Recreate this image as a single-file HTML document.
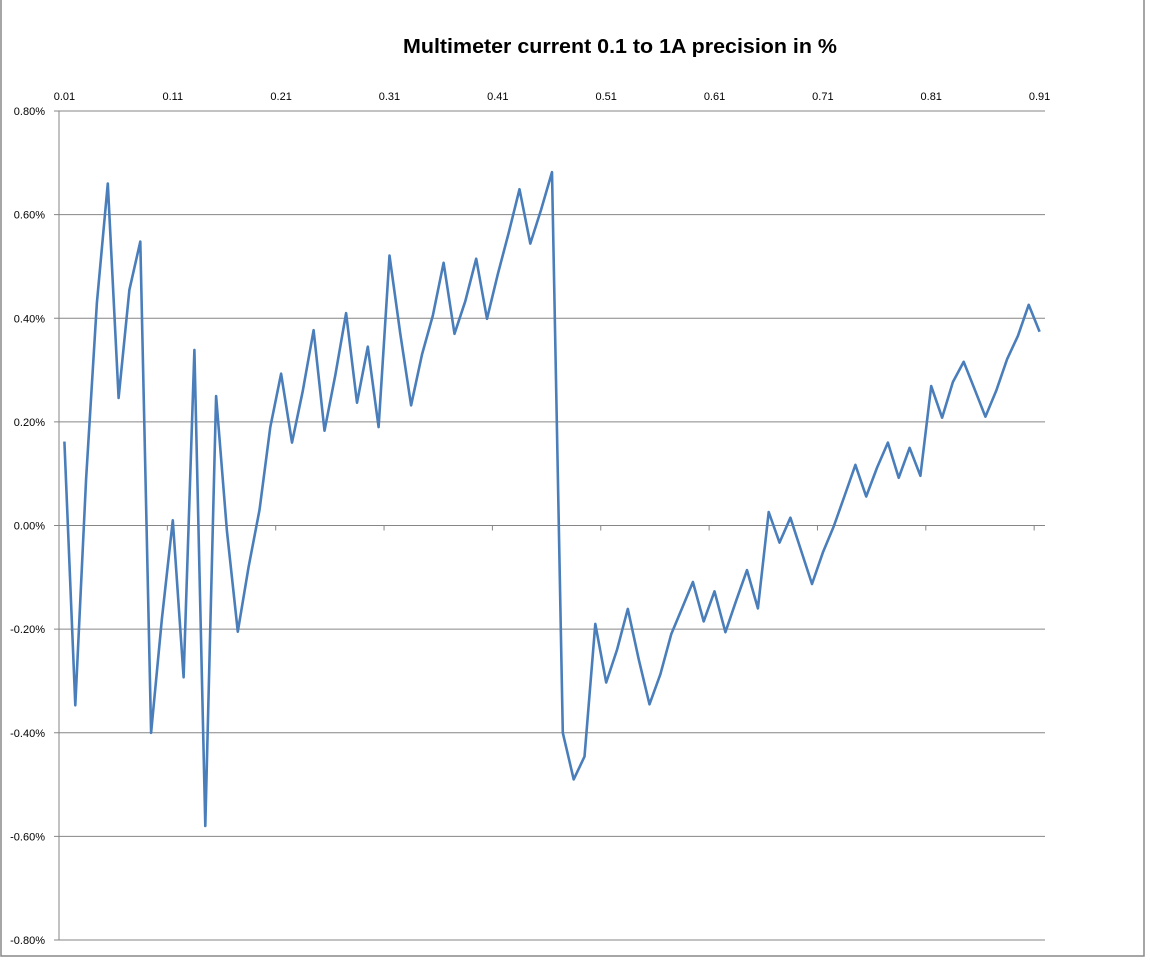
<!DOCTYPE html>
<html><head><meta charset="utf-8"><style>
body{margin:0;background:#fff;}
svg{display:block;font-family:"Liberation Sans",sans-serif;}
</style></head><body>
<svg id="chart" width="1150" height="963" viewBox="0 0 1150 963">
<rect x="1" y="-2" width="1143" height="958" fill="#fff" stroke="#888" stroke-width="1.5"/>
<text x="620" y="53" text-anchor="middle" font-size="20" font-weight="bold" textLength="434" lengthAdjust="spacingAndGlyphs">Multimeter current  0.1 to 1A precision in %</text>
<g id="grid"></g>
<g id="yl"></g>
<g id="xl"></g>
<g id="ser"></g>
</svg>
<script>
const categories=[];for(let k=1;k<=91;k++)categories.push((k/100).toFixed(2));
const values=[0.162,-0.347,0.09,0.43,0.66,0.246,0.455,0.548,-0.40,-0.18,0.01,-0.293,0.339,-0.58,0.25,-0.01,-0.205,-0.08,0.03,0.19,0.293,0.16,0.26,0.377,0.183,0.29,0.41,0.237,0.345,0.19,0.521,0.37,0.232,0.33,0.405,0.507,0.37,0.433,0.515,0.399,0.485,0.565,0.649,0.544,0.61,0.682,-0.40,-0.49,-0.446,-0.19,-0.303,-0.24,-0.161,-0.258,-0.345,-0.287,-0.21,-0.16,-0.109,-0.185,-0.127,-0.206,-0.145,-0.086,-0.16,0.026,-0.033,0.015,-0.049,-0.113,-0.052,-0.002,0.057,0.117,0.056,0.112,0.16,0.092,0.15,0.096,0.269,0.208,0.277,0.316,0.263,0.21,0.26,0.321,0.366,0.426,0.374];
const yTicks=[0.8,0.6,0.4,0.2,0,-0.2,-0.4,-0.6,-0.8];
const NS='http://www.w3.org/2000/svg';
const L=59,R=1045,T=111,B=940;
const w=(R-L)/categories.length;
const x=i=>L+w*(i+0.5);
const y=v=>T+(0.8-v)/1.6*(B-T);
function mk(tag,attrs,parent){const e=document.createElementNS(NS,tag);for(const k in attrs)e.setAttribute(k,attrs[k]);parent.appendChild(e);return e;}
const grid=document.getElementById('grid'),yl=document.getElementById('yl'),xl=document.getElementById('xl'),ser=document.getElementById('ser');
yTicks.forEach(v=>{
 const g=mk('line',{x1:L-5,x2:R,y1:y(v),y2:y(v),stroke:'#868686','stroke-width':1},grid);
 
 
 const t=mk('text',{x:L-14,y:y(v)+4,'text-anchor':'end','font-size':11,fill:'#000'},yl);
 
 
 t.textContent=v.toFixed(2)+'%';
});
const ax=mk('line',{x1:L,x2:L,y1:T,y2:B,stroke:'#868686','stroke-width':1},grid);


for(let i=0;i<=categories.length;i+=10){
 const tk=mk('line',{x1:L+w*i,x2:L+w*i,y1:y(0),y2:y(0)+5,stroke:'#868686','stroke-width':1},grid);
 
 
}
categories.forEach((c,i)=>{
 if(i%10!==0)return;
 const t=mk('text',{x:x(i),y:100,'text-anchor':'middle','font-size':11,fill:'#000'},xl);
 
 
 t.textContent=c;
});
const p=mk('polyline',{points:values.map((v,i)=>x(i).toFixed(1)+','+y(v).toFixed(1)).join(' '),fill:'none',stroke:'#4a7ebb','stroke-width':2.6,'stroke-linejoin':'round'},ser);


</script>
</body></html>
